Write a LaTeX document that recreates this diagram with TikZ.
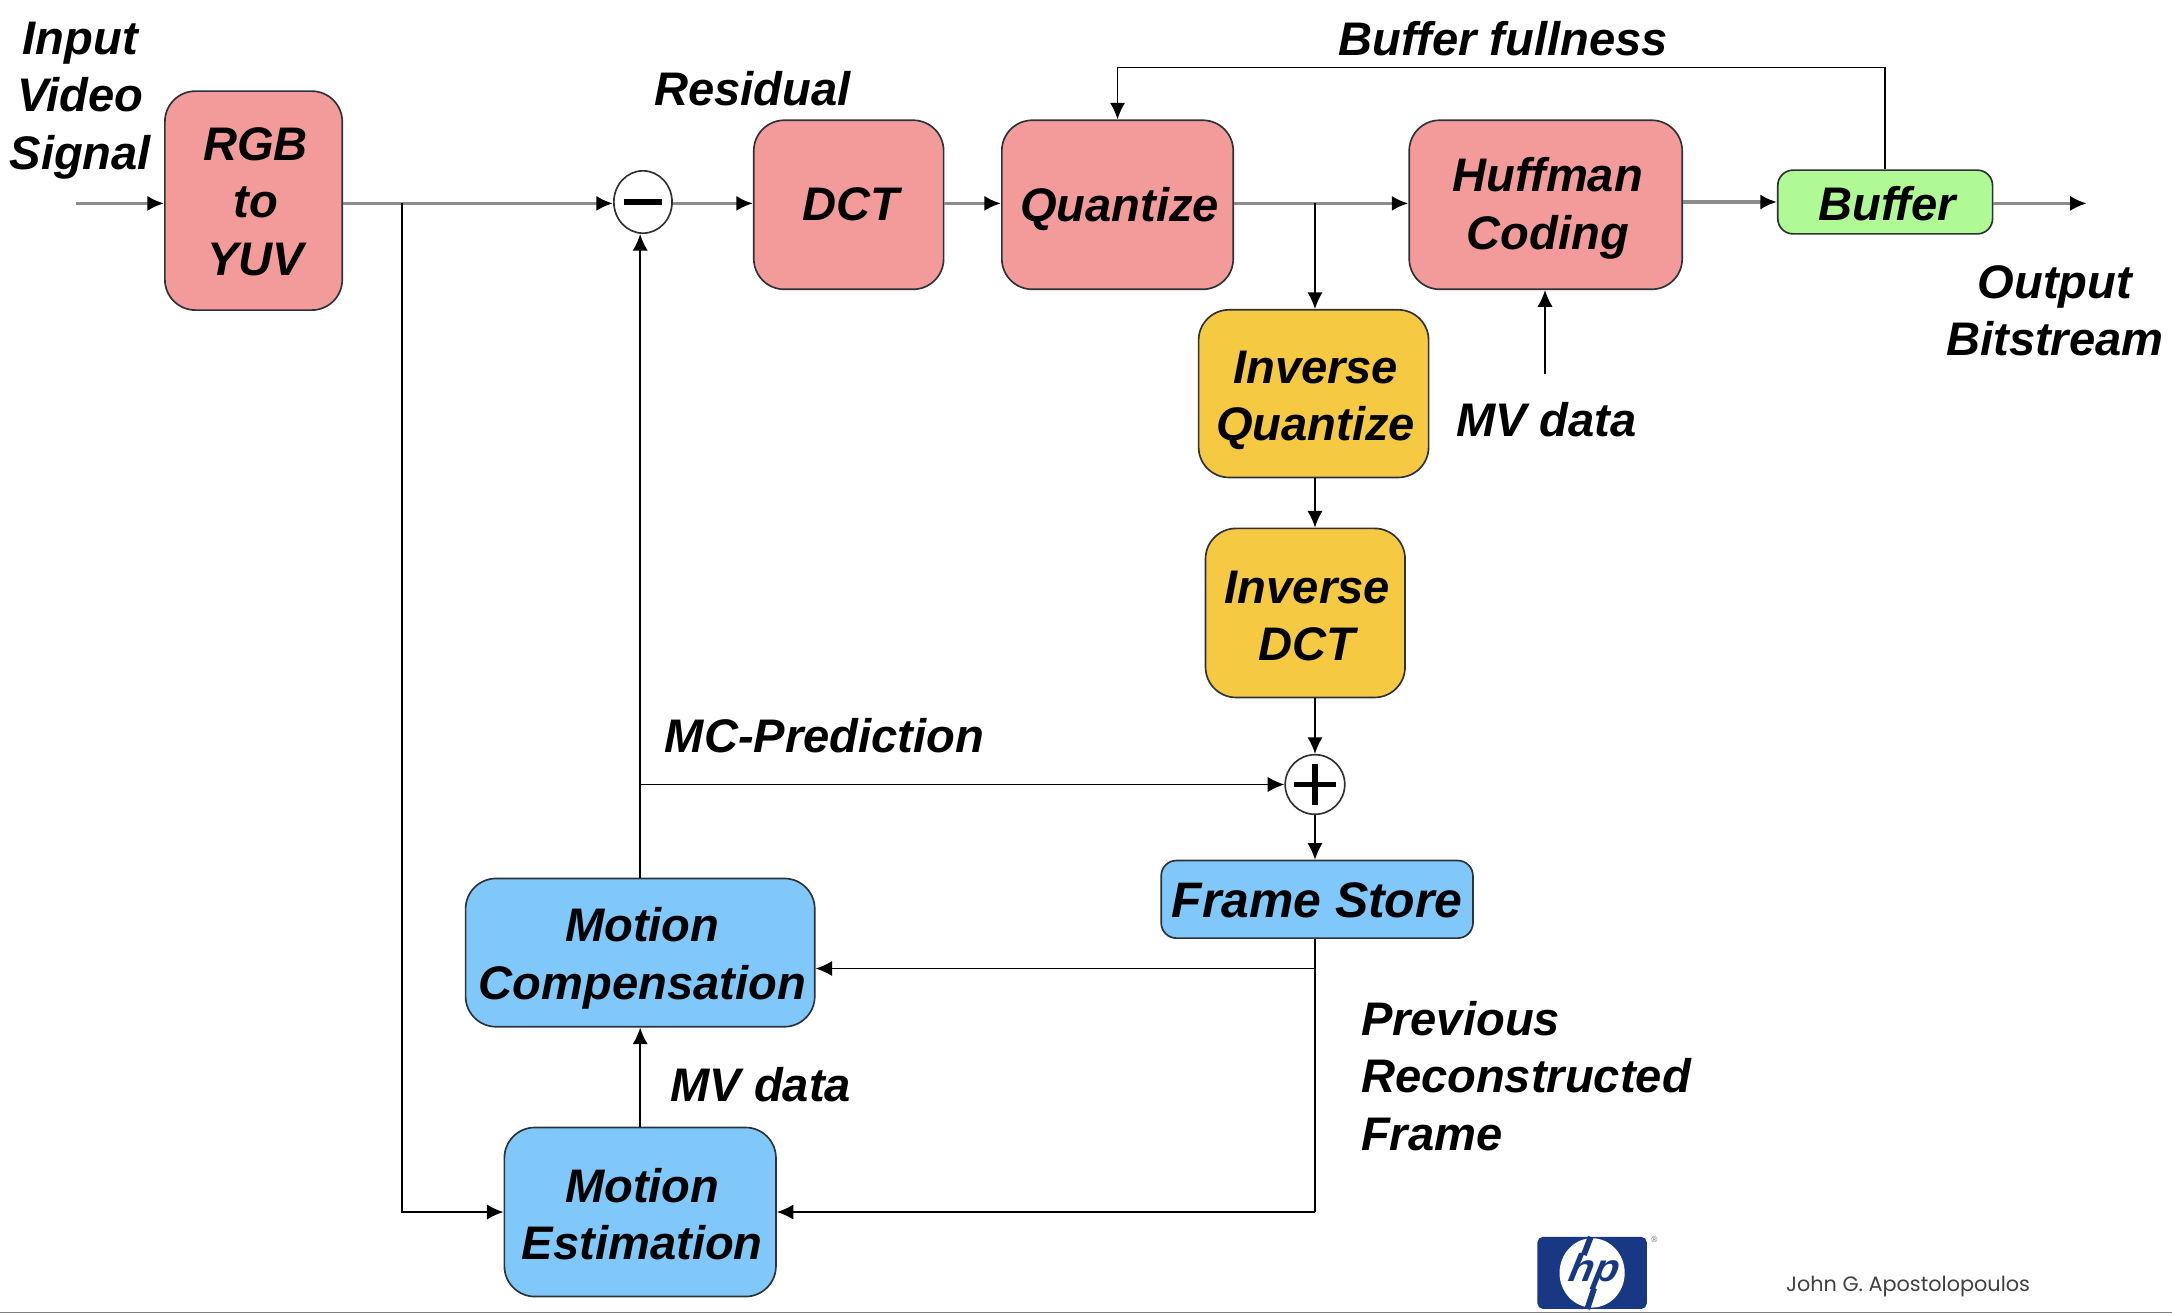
\documentclass[tikz,border=0pt]{standalone}
\usepackage{fontspec}
\setmainfont{Liberation Sans}
\newfontfamily\authorfont{Poppins}
\usetikzlibrary{arrows.meta,shapes.geometric}
\definecolor{redbox}{RGB}{243,155,155}
\definecolor{yelbox}{RGB}{246,201,66}
\definecolor{bluebox}{RGB}{128,200,250}
\definecolor{grnbox}{RGB}{176,250,150}
\definecolor{edgecol}{RGB}{45,50,55}
\definecolor{hpblue}{RGB}{24,56,132}
\newcommand{\dropt}[1]{\rule{0pt}{\dimexpr 25pt+2\dimexpr #1pt\relax\relax}}
\newcommand{\sh}{\hspace*{3pt}}
\tikzset{
  x=1pt,y=-0.9985pt,
  lab/.style={font=\fontsize{34}{41.5}\selectfont\bfseries\itshape,align=center,text=black,inner sep=0pt},
  blockbox/.style={lab,draw=edgecol,line width=1.2pt,rounded corners=22pt,minimum width=#1},
  redblock/.style={blockbox=#1,fill=redbox},
  yelblock/.style={blockbox=#1,fill=yelbox},
  blueblock/.style={blockbox=#1,fill=bluebox},
  sumcirc/.style={draw=edgecol,fill=white,line width=1.2pt,ellipse,inner sep=0pt,minimum width=42pt,minimum height=45pt},
  conn/.style={draw=black,line width=1.2pt,-{Latex[length=12pt,width=11pt,color=black]}},
  gconn/.style={conn,draw=black!45,line width=2.2pt},
  wire/.style={draw=black,line width=1.2pt},
}
\begin{document}
\begin{tikzpicture}
\useasboundingbox (0,0) rectangle (1567.5,949.7);
% blocks
\node[redblock=128pt,minimum height=158pt] (rgb) at (183,145) {\dropt{0.2}\sh RGB\\\sh to\\\sh YUV};
\node[redblock=137pt,minimum height=122pt] (dct) at (612.5,148) {\sh DCT};
\node[redblock=167pt,minimum height=122pt] (quant) at (806.5,148) {\dropt{3}\sh Quantize};
\node[redblock=197pt,minimum height=122pt] (huff) at (1115.5,148) {\dropt{2.5}\sh Huffman\\\sh Coding};
\node[lab,draw=edgecol,line width=1.2pt,rounded corners=11pt,fill=grnbox,minimum width=155pt,minimum height=46pt] (buffer) at (1360.5,146) {\dropt{1}\sh Buffer};
\node[yelblock=166pt,minimum height=121pt] (iq) at (948,284.5) {\dropt{4}\sh Inverse\\\sh Quantize};
\node[yelblock=144pt,minimum height=122pt] (idct) at (942,443) {\dropt{1.5}\sh Inverse\\\sh DCT};
\node[lab,font=\fontsize{36}{41.5}\selectfont\bfseries\itshape,draw=edgecol,line width=1.2pt,rounded corners=11pt,fill=bluebox,minimum width=225pt,minimum height=56pt] (fs) at (950.5,650) {\dropt{1}Frame Store};
\node[blueblock=252pt,minimum height=107pt] (mc) at (462,688.5) {\dropt{4}\sh Motion\\\sh Compensation};
\node[blueblock=196pt,minimum height=122pt] (me) at (462,876) {\dropt{1.5}\sh Motion\\\sh Estimation};
\node[sumcirc] (minus) at (464,146) {};
\node[sumcirc,minimum width=43pt,minimum height=43pt] (plus) at (949,567) {};
\draw[line width=4.2pt] (minus.center) ++(-14,0) -- ++(28,0);
\draw[line width=4.2pt] (plus.center) ++(-15,0) -- ++(30,0);
\draw[line width=4.2pt] (plus.center) ++(0,-15) -- ++(0,30);
% labels
\node[lab] (tinput) at (58,72.5) {Input\\Video\\Signal};
\node[lab] (tres) at (543,64) {Residual};
\node[lab] (tbuf) at (1085,28) {Buffer fullness};
\node[lab] (tout) at (1483,224.5) {Output\\Bitstream};
\node[lab] (tmv1) at (1116,303) {MV data};
\node[lab] (tmc) at (595,532) {MC-Prediction};
\node[lab] (tmv2) at (549,784) {MV data};
\node[lab,align=left,anchor=west] (tprev) at (982,777.5) {Previous\\Reconstructed\\Frame};
\node[font=\fontsize{15}{18}\selectfont\authorfont,text=black!75,inner sep=0pt] (tauth) at (1377,930) {John G. Apostolopoulos};
% free ends and junctions
\coordinate (in) at (55,147);
\coordinate (out) at (1506,147);
\coordinate (mvin) at (1115,270);
\coordinate (j1) at (290,147);
\coordinate (j2) at (949,147);
\coordinate (j3) at (462,567);
\coordinate (j4) at (949,700);
\coordinate (j5) at (949,876);
% top row
\draw[gconn] (in) -- (in -| rgb.west);
\draw[gconn] (rgb.east |- in) -- (minus.west |- in);
\draw[gconn] (minus.east |- in) -- (dct.west |- in);
\draw[gconn] (dct.east |- in) -- (quant.west |- in);
\draw[gconn] (quant.east |- in) -- (huff.west |- in);
\draw[gconn] (huff.east |- buffer) -- (buffer.west);
\draw[gconn] (buffer.east |- out) -- (out);
% feedback
\draw[conn] (buffer.north) -- ++(0,-73.5) -| (quant.north);
\draw[conn] (j2) -- (j2 |- iq.north);
\draw[conn] (mvin) -- (mvin |- huff.south);
\draw[conn] (j2 |- iq.south) -- (j2 |- idct.north);
\draw[conn] (j2 |- idct.south) -- (plus.north);
\draw[conn] (plus.south) -- (plus.south |- fs.north);
\draw[conn] (j1) -- (j1 |- me) -- (me.west);
\draw[wire] (j2 |- fs.south) -- (j5);
\draw[conn] (j4) -- (mc.east |- j4);
\draw[conn] (j5) -- (me.east);
\draw[conn] (mc.north) -- (minus.south -| mc.north);
\draw[conn] (j3) -- (plus.west);
\draw[conn] (me.north) -- (mc.south);
% hp logo
\node[fill=hpblue,rounded corners=4pt,minimum width=79pt,minimum height=52pt,inner sep=0pt] (hplogo) at (1149,920) {};
\fill[white] (hplogo.center) ellipse (23.5pt and 25pt);
\node[font=\fontsize{28}{28}\selectfont\bfseries\itshape,text=hpblue,inner sep=0pt,anchor=base,transform shape,xslant=0.2,xscale=1.05] (hptxt) at (1149,926) {hp};
\coordinate (hs1) at (1148,894);
\coordinate (hs2) at (1143,907);
\coordinate (ps1) at (1150.5,931);
\coordinate (ps2) at (1145.5,946);
\draw[hpblue,line width=4.2pt] (hs1) -- (hs2);
\draw[hpblue,line width=4.2pt] (ps1) -- (ps2);
\node[font=\fontsize{6}{6}\selectfont,text=black!60,inner sep=0pt] (hpreg) at (1194,896) {®};
% bottom rule
\coordinate (rl) at (0,948.7);
\coordinate (rr) at (1567.5,948.7);
\draw[draw=black!50,line width=1pt] (rl) -- (rr);
\end{tikzpicture}
\end{document}
